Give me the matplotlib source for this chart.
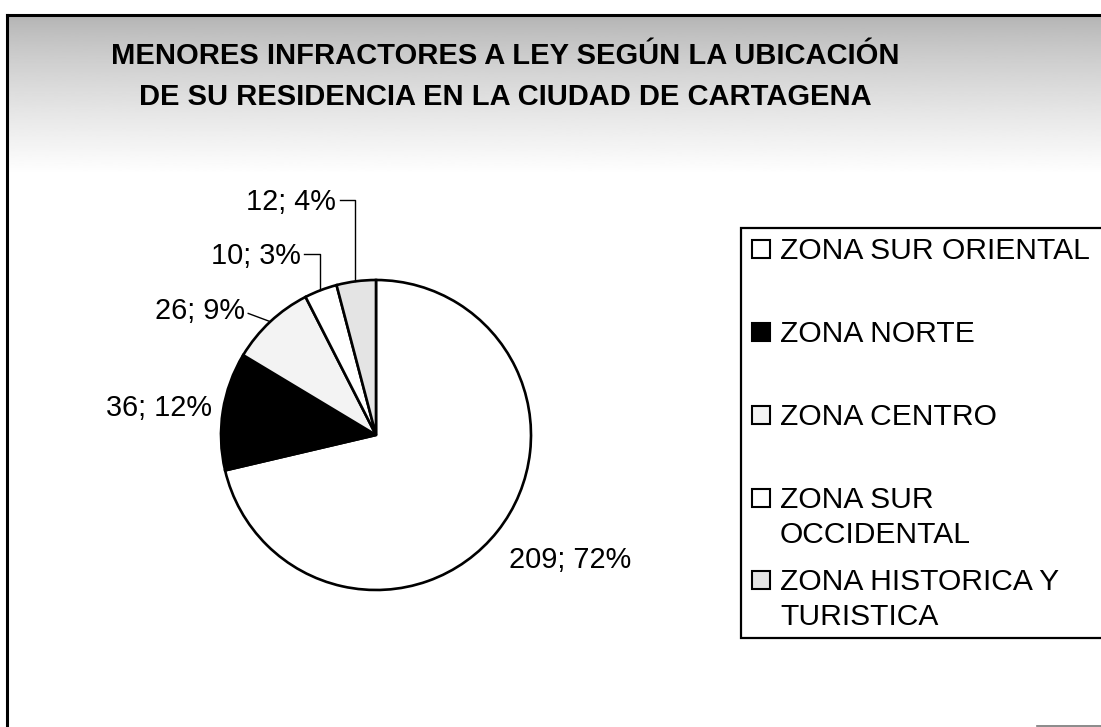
import numpy as np
import matplotlib
matplotlib.use("Agg")
import matplotlib.pyplot as plt
from matplotlib.patches import Rectangle

plt.rcParams['font.family'] = ['Liberation Sans', 'DejaVu Sans']

# ---- data ----
categories = ["ZONA SUR ORIENTAL", "ZONA NORTE", "ZONA CENTRO",
              "ZONA SUR\nOCCIDENTAL", "ZONA HISTORICA Y\nTURISTICA"]
values = [209, 36, 26, 10, 12]
percents = [72, 12, 9, 3, 4]
title_lines = ["MENORES INFRACTORES A LEY SEGÚN LA UBICACIÓN",
               "DE SU RESIDENCIA EN LA CIUDAD DE CARTAGENA"]

# ---- style / layout ----
colors = ["white", "black", "#f3f3f3", "white", "#e4e4e4"]
W, H = 1101, 727
def Y(y):
    return H - y

fig = plt.figure(figsize=(W / 100, H / 100), dpi=100)
ax = fig.add_axes([0, 0, 1, 1])

# scanned-grey title band
grad = np.linspace(0, 1, 200)[:, None]
grad = 0.70 + 0.30 * grad ** 0.8
ax.imshow(grad, extent=[7, W, Y(175), Y(15)], cmap='gray', vmin=0, vmax=1,
          aspect='auto', zorder=0, interpolation='bilinear')

# pie
pie_c = (376, Y(435))
pie_r = 155
wedges, _ = ax.pie(values, colors=colors, startangle=90, counterclock=False,
                   center=pie_c, radius=pie_r, frame=True,
                   wedgeprops=dict(edgecolor='black', linewidth=1.9))

# data labels: (angle deg, distance factor, leader)
label_layout = [(-32.8, 1.49, None), (173.0, 1.41, None), (145.0, 1.39, 'diag'),
                (124.0, 1.39, 'elbow'), (110.0, 1.60, 'elbow')]
fs = 20.8
for w, v, p, (ang, dist, lead) in zip(wedges, values, percents, label_layout):
    a = np.deg2rad(ang)
    tx = pie_c[0] + dist * pie_r * np.cos(a)
    ty = pie_c[1] + dist * pie_r * np.sin(a)
    txt = ax.text(tx, ty, f"{v}; {p}%", fontsize=fs, ha='center', va='center',
                  color='black', zorder=5)
    mid = np.deg2rad((w.theta1 + w.theta2) / 2)
    ex = pie_c[0] + pie_r * np.cos(mid)
    ey = pie_c[1] + pie_r * np.sin(mid)
    if lead is not None:
        fig.canvas.draw()
        bb = txt.get_window_extent().transformed(ax.transData.inverted())
        rx = bb.x1 + 4
        if lead == 'elbow':
            ax.plot([rx, ex - 1, ex - 1], [ty + 2, ty + 2, ey], color='black',
                    lw=1.0, zorder=4)
        else:
            ax.plot([rx, ex], [ty - 2, ey], color='black', lw=1.0, zorder=4)

# title
ax.text(505, Y(56), title_lines[0], fontsize=21, fontweight='bold',
        ha='center', va='center', zorder=5)
ax.text(505, Y(97), title_lines[1], fontsize=21, fontweight='bold',
        ha='center', va='center', zorder=5)

# legend (manual)
ax.add_patch(Rectangle((741, Y(638)), 400, 638 - 228, facecolor='white',
                       edgecolor='black', lw=1.6, zorder=3))
row_y = [249, 332, 415, 498, 580]
for cat, col, ry in zip(categories, colors, row_y):
    ax.add_patch(Rectangle((752, Y(ry) - 9), 18, 18, facecolor=col,
                           edgecolor='black', lw=1.5, zorder=4))
    ax.text(780, Y(ry) + 12, cat, fontsize=21.6, ha='left', va='top',
            linespacing=1.33, zorder=5)

# outer frame
ax.plot([7, W], [Y(15), Y(15)], color='black', lw=2.2, zorder=6)
ax.plot([7, 7], [Y(15), 0], color='black', lw=2.2, zorder=6)
ax.plot([1037, W], [Y(726), Y(726)], color='#777777', lw=1.2, zorder=6)

ax.set_xlim(0, W)
ax.set_ylim(0, H)
ax.set_aspect('auto')
ax.axis('off')

fig.savefig("out.png", dpi=100, facecolor='white')
